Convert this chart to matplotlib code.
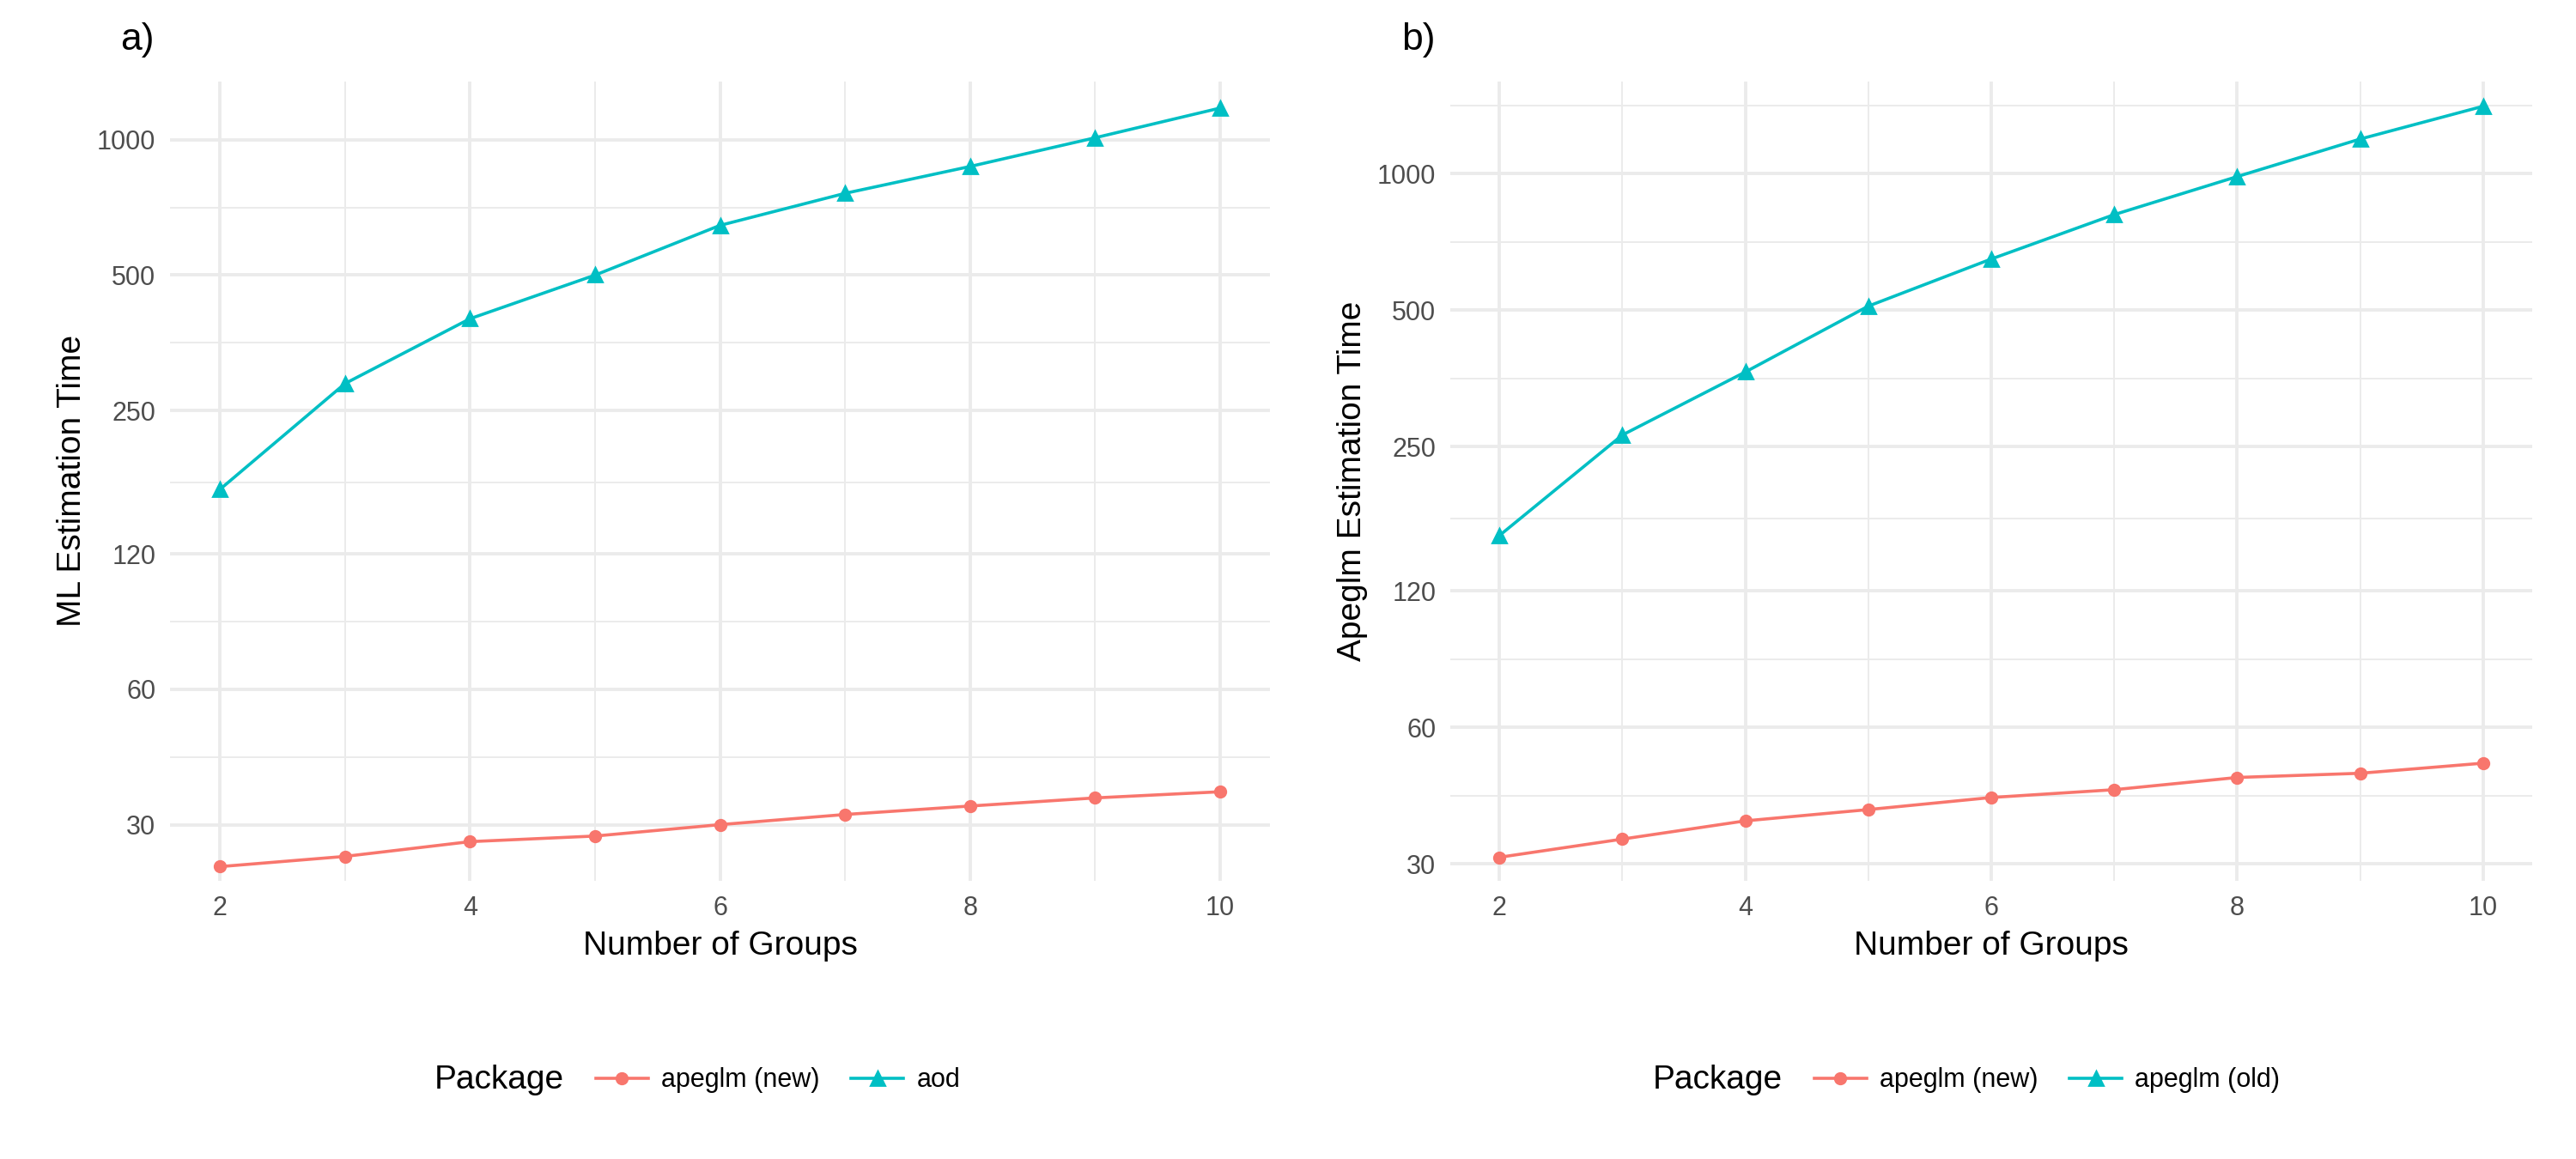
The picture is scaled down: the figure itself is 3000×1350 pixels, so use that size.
import numpy as np
import matplotlib.pyplot as plt
from matplotlib.lines import Line2D

groups = [2, 3, 4, 5, 6, 7, 8, 9, 10]
a_new = [24.2, 25.5, 27.5, 28.3, 30.0, 31.6, 33.0, 34.4, 35.5]
a_aod = [167, 287, 400, 500, 645, 760, 872, 1010, 1176]
b_new = [31.0, 34.0, 37.3, 39.5, 42.0, 43.7, 46.5, 47.5, 50.0]
b_old = [159, 265, 365, 510, 648, 812, 985, 1192, 1408]
yticks = [30, 60, 120, 250, 500, 1000]

RED = '#F8766D'
TEAL = '#00BFC4'
GRID = '#EBEBEB'

plt.rcParams['font.family'] = 'Liberation Sans'
fig = plt.figure(figsize=(15, 6.75), dpi=200)

panels = [
    ([0.066, 0.24, 0.427, 0.69], 'a)', 'ML Estimation Time', a_new, a_aod, 'aod', (22.5, 1350), 0.222),
    ([0.563, 0.24, 0.42, 0.69], 'b)', 'Apeglm Estimation Time', b_new, b_old, 'apeglm (old)', (27.5, 1600), 0.695),
]

for rect, tag, ylab, new, other, oname, ylim, legx in panels:
    ax = fig.add_axes(rect)
    ax.set_yscale('log')
    ax.set_ylim(*ylim)
    ax.set_xlim(1.6, 10.4)
    ax.set_yticks(yticks)
    ax.set_yticklabels([str(t) for t in yticks])
    ax.yaxis.set_minor_locator(plt.NullLocator())
    ax.set_xticks([2, 4, 6, 8, 10])
    # minor grid
    for i in range(len(yticks) - 1):
        ax.axhline(np.sqrt(yticks[i] * yticks[i + 1]), color=GRID, lw=0.7, zorder=0)
    ax.axhline(np.sqrt(1000 * 2000), color=GRID, lw=0.7, zorder=0)
    ax.axhline(np.sqrt(15 * 30), color=GRID, lw=0.7, zorder=0)
    for x in [3, 5, 7, 9]:
        ax.axvline(x, color=GRID, lw=0.7, zorder=0)
    ax.grid(True, which='major', color=GRID, lw=1.4, zorder=0)
    for s in ax.spines.values():
        s.set_visible(False)
    ax.tick_params(length=0, labelsize=11, colors='#4D4D4D', pad=6)
    ax.plot(groups, new, '-o', color=RED, ms=4.5, lw=1.3)
    ax.plot(groups, other, '-^', color=TEAL, ms=5.5, lw=1.3)
    ax.set_xlabel('Number of Groups', fontsize=14)
    ax.set_ylabel(ylab, fontsize=14)
    ax.text(-0.045, 1.03, tag, transform=ax.transAxes, fontsize=16, va='bottom')
    handles = [Line2D([], [], color=RED, marker='o', ms=4.5, lw=1.3),
               Line2D([], [], color=TEAL, marker='^', ms=5.5, lw=1.3)]
    fig.legend(handles, ['apeglm (new)', oname], ncol=2,
               loc='center left', bbox_to_anchor=(legx, 0.068), frameon=False,
               fontsize=11, handlelength=2, columnspacing=1.2, handletextpad=0.5)
    fig.text(legx - 0.003, 0.068, 'Package', fontsize=14, ha='right', va='center')

fig.savefig('out.png', dpi=200, facecolor='white')
